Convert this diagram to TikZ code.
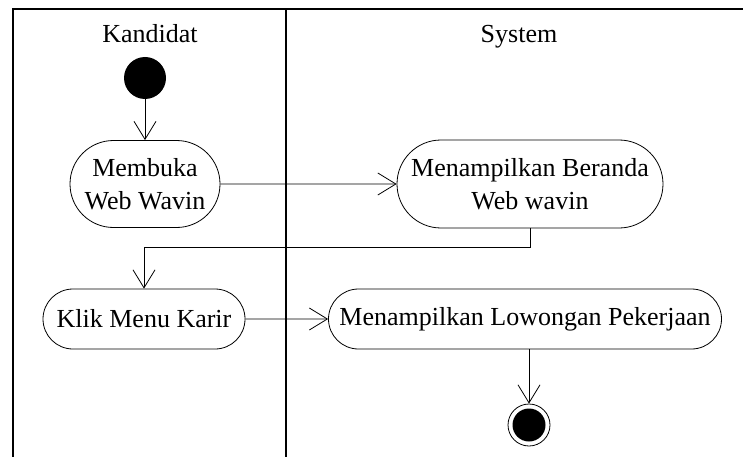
\documentclass[tikz,border=0pt]{standalone}
\usepackage{fontspec}
\setmainfont{Liberation Serif}
\usetikzlibrary{arrows.meta,shapes.misc}
\begin{document}
\begin{tikzpicture}[x=1pt,y=-1pt,line width=0.8pt,
	font=\fontsize{26}{33}\selectfont,
	act/.style={draw,rounded rectangle,align=center,inner sep=2pt,minimum height=60pt},
	flow/.style={-{Straight Barb[length=18pt,width=22pt]}},
	lane/.style={line width=2pt}]
	\useasboundingbox (0,0) rectangle (743,457);
	% swimlanes
	\draw [lane] (13,457) -- (13,9) -- (743,9);
	\draw [lane] (286,9) -- (286,457);
	\node [anchor=base] (kandidat) at (150,43) {Kandidat};
	\node [anchor=base] (system) at (519,43) {System};
	% start and end
	\node [circle,fill=black,minimum size=42pt,inner sep=0pt] (start) at (145,78) {};
	\node [circle,draw,minimum size=42pt,inner sep=0pt] (end) at (529,425) {};
	\fill (end) circle (16.5pt);
	% activities
	\node [act,minimum width=154pt,minimum height=87pt] (membuka) at (145,184) {Membuka\\Web Wavin};
	\node [act,minimum width=270pt,minimum height=88pt] (beranda) at (530,184) {Menampilkan Beranda\\Web wavin};
	\node [act,minimum width=206pt] (klik) at (144,319) {Klik Menu Karir};
	\node [act,minimum width=397pt] (lowongan) at (525,319) {Menampilkan Lowongan Pekerjaan};
	% flows
	\draw [flow] (start) -- (membuka);
	\draw [flow] (membuka) -- (beranda);
	\draw [flow] (beranda.south) -- ++(0,19) -| (klik.north);
	\draw [flow] (klik) -- (lowongan);
	\draw [flow] (lowongan.south -| end) -- (end);
\end{tikzpicture}
\end{document}
